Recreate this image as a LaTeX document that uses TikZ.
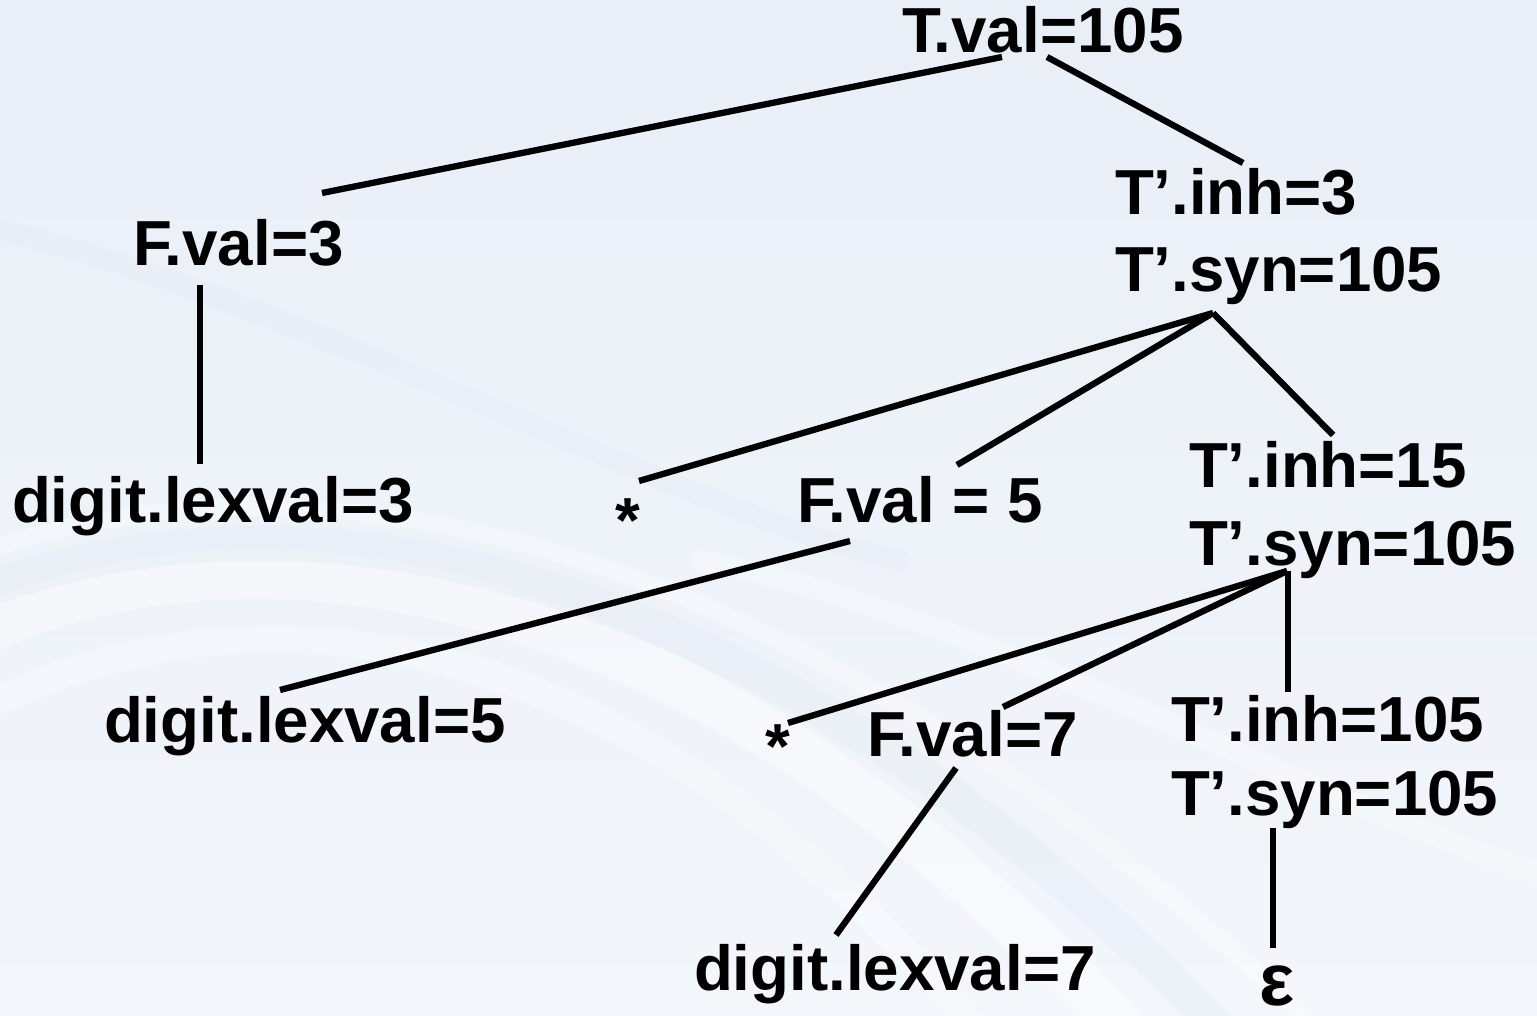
\documentclass[tikz,border=0pt]{standalone}
\usepackage{fontspec}
\setmainfont{Liberation Sans}
\usetikzlibrary{calc}

\definecolor{bgtop}{RGB}{233,239,247}
\definecolor{bgbot}{RGB}{243,246,251}
\definecolor{swoosh}{RGB}{224,231,242}

\tikzset{
  lbl/.style={anchor=base west, inner sep=0pt, outer sep=0pt,
              font=\fontsize{18.1}{21}\selectfont\bfseries, text=black},
  sym/.style={lbl, anchor=base},
  edge/.style={line width=1.8pt, draw=black, line cap=butt},
}

\begin{document}
\begin{tikzpicture}[x=0.01cm, y=-0.01cm]
  \useasboundingbox (0,0) rectangle (1537,1016);

  % soft slide background
  \shade[top color=bgtop, bottom color=bgbot] (0,0) rectangle (1537,1016);
  \begin{scope}[line cap=round]
    \draw[white, opacity=0.4, line width=14pt]
      (-40,640) .. controls (250,500) and (700,560) .. (1150,1060);
    \draw[white, opacity=0.3, line width=8pt]
      (-40,720) .. controls (250,560) and (650,620) .. (1000,1060);
    \draw[white, opacity=0.35, line width=5pt]
      (-40,560) .. controls (300,430) and (800,520) .. (1350,1060);
    \draw[swoosh, opacity=0.3, line width=10pt]
      (-40,600) .. controls (280,470) and (760,540) .. (1250,1060);
    \draw[swoosh, opacity=0.25, line width=6pt]
      (0,230) .. controls (300,300) and (700,520) .. (900,560);
    \draw[white, opacity=0.3, line width=6pt]
      (700,560) .. controls (1000,620) and (1300,800) .. (1560,880);
  \end{scope}

  % tree labels
  \node[lbl] (Tval)  at (902,53)  {T.val=105};
  \node[lbl] (F3)    at (133,266) {F.val=3};
  \node[lbl] (Ti1)   at (1115,215) {T’.inh=3};
  \node[lbl] (Ts1)   at (1115,292) {T’.syn=105};
  \node[lbl] (D3)    at (12,522)  {digit.lexval=3};
  \node[sym] (M1)    at (628,542) {*};
  \node[lbl] (F5)    at (797,523) {F.val = 5};
  \node[lbl] (Ti2)   at (1189,488) {T’.inh=15};
  \node[lbl] (Ts2)   at (1189,565) {T’.syn=105};
  \node[lbl] (D5)    at (104,742) {digit.lexval=5};
  \node[sym] (M2)    at (778,768) {*};
  \node[lbl] (F7)    at (867,756) {F.val=7};
  \node[lbl] (Ti3)   at (1171,741) {T’.inh=105};
  \node[lbl] (Ts3)   at (1171,815) {T’.syn=105};
  \node[lbl] (D7)    at (694,990) {digit.lexval=7};
  \node[sym, font=\fontsize{21}{24}\selectfont\bfseries] (Eps) at (1277,1005) {ε};

  % connector end points
  \coordinate (Tval-l) at (1002,57);
  \coordinate (Tval-r) at (1047,57);
  \coordinate (F3-t)   at (322,193);
  \coordinate (F3-b)   at (200,285);
  \coordinate (Ti1-t)  at (1243,163);
  \coordinate (Ts1-b)  at (1213,313);
  \coordinate (D3-t)   at (200,464);
  \coordinate (M1-t)   at (639,481);
  \coordinate (F5-t)   at (957,465);
  \coordinate (F5-b)   at (850,541);
  \coordinate (Ti2-t)  at (1333,435);
  \coordinate (Ts2-b)  at (1287,571);
  \coordinate (D5-t)   at (280,690);
  \coordinate (M2-t)   at (788,723);
  \coordinate (F7-t)   at (1003,707);
  \coordinate (F7-b)   at (956,768);
  \coordinate (Ti3-t)  at (1288,692);
  \coordinate (Ts3-b)  at (1273,828);
  \coordinate (D7-t)   at (836,935);
  \coordinate (Eps-t)  at (1273,948);

  % parse-tree edges
  \draw[edge] (Tval-l) -- (F3-t);
  \draw[edge] (Tval-r) -- (Ti1-t);
  \draw[edge] (F3-b) -- (D3-t);
  \draw[edge] (Ts1-b) -- (M1-t);
  \draw[edge] (Ts1-b) -- (F5-t);
  \draw[edge] (Ts1-b) -- (Ti2-t);
  \draw[edge] (F5-b) -- (D5-t);
  \draw[edge] (Ts2-b) -- (M2-t);
  \draw[edge] (Ts2-b) -- (F7-t);
  \draw[edge] (Ts2-b -| Ti3-t) -- (Ti3-t);
  \draw[edge] (F7-b) -- (D7-t);
  \draw[edge] (Ts3-b) -- (Eps-t);
\end{tikzpicture}
\end{document}
